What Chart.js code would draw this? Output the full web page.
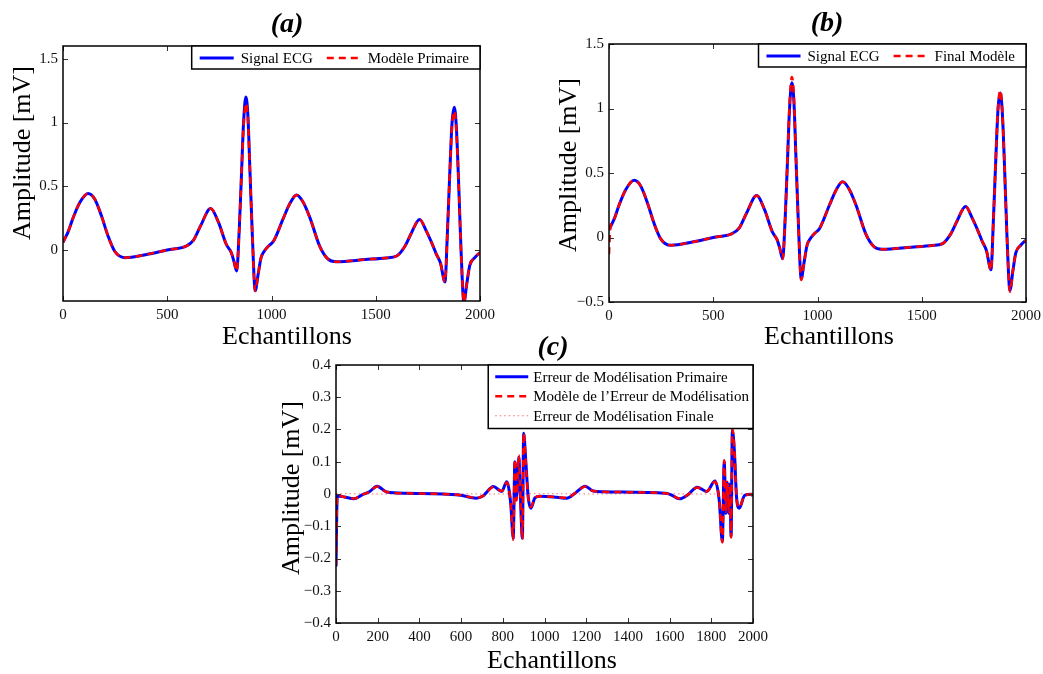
<!DOCTYPE html>
<html>
<head>
<meta charset="utf-8">
<title>ECG</title>
<script src="https://cdn.jsdelivr.net/npm/chart.js@4.4.1/dist/chart.umd.min.js"></script>
<style>
    body { margin: 0; background: #fff; width: 1043px; height: 674px; position: relative; overflow: hidden; }
    canvas { position: absolute; }
</style>
</head>
<body>
<canvas id="chartA" width="500" height="352" style="left:0;top:0"></canvas>
<canvas id="chartB" width="503" height="352" style="left:540px;top:0"></canvas>
<canvas id="chartC" width="520" height="344" style="left:260px;top:330px"></canvas>

<script>
// echantillons du signal ECG (deux battements)
const xEcg = [
    0, 6, 24, 48, 80, 120, 152, 184, 216, 248,
    296, 400, 500, 590, 625, 660, 708, 745, 783, 807,
    820, 833, 845, 855, 866, 877, 887, 896, 908, 922,
    935, 950, 965, 985, 1010, 1057, 1090, 1120, 1150, 1185,
    1231, 1270, 1310, 1450, 1550, 1600, 1640, 1670, 1710, 1745,
    1770, 1790, 1810, 1832, 1844, 1855, 1866, 1877, 1887, 1897,
    1909, 1923, 1937, 1951, 1975, 2000
];
const ecgSignal = [
    0.06, 0.08, 0.14, 0.25, 0.37, 0.443, 0.40, 0.27, 0.11, -0.01,
    -0.06, -0.035, 0.0, 0.03, 0.075, 0.19, 0.325, 0.22, 0.045, -0.02,
    -0.09, -0.165, 0.15, 0.55, 1.0, 1.2, 1.05, 0.65, 0.12, -0.32,
    -0.2, -0.06, -0.01, 0.03, 0.07, 0.25, 0.37, 0.432, 0.38, 0.25,
    0.03, -0.07, -0.092, -0.075, -0.062, -0.047, 0.03, 0.13, 0.24, 0.14,
    0.05, -0.03, -0.1, -0.25, 0.15, 0.6, 1.0, 1.12, 0.95, 0.55,
    0.0, -0.41, -0.26, -0.12, -0.06, -0.02
];
const modelePrimaire = [
    0.06, 0.08, 0.14, 0.25, 0.37, 0.443, 0.40, 0.27, 0.11, -0.01,
    -0.06, -0.035, 0.0, 0.03, 0.075, 0.19, 0.325, 0.22, 0.045, -0.02,
    -0.09, -0.165, 0.15, 0.55, 0.97, 1.15, 1.02, 0.65, 0.12, -0.32,
    -0.2, -0.06, -0.01, 0.03, 0.07, 0.25, 0.37, 0.432, 0.38, 0.25,
    0.03, -0.07, -0.092, -0.075, -0.062, -0.047, 0.03, 0.13, 0.24, 0.14,
    0.05, -0.03, -0.1, -0.25, 0.15, 0.6, 0.98, 1.09, 0.93, 0.55,
    0.0, -0.41, -0.26, -0.12, -0.06, -0.02
];
const modeleFinal = [
    -0.13, 0.07, 0.14, 0.25, 0.37, 0.443, 0.40, 0.27, 0.11, -0.01,
    -0.06, -0.035, 0.0, 0.03, 0.075, 0.19, 0.325, 0.22, 0.045, -0.02,
    -0.09, -0.165, 0.15, 0.56, 1.03, 1.245, 1.08, 0.66, 0.12, -0.33,
    -0.2, -0.06, -0.01, 0.03, 0.07, 0.25, 0.37, 0.432, 0.38, 0.25,
    0.03, -0.07, -0.092, -0.075, -0.062, -0.047, 0.03, 0.13, 0.24, 0.14,
    0.05, -0.03, -0.1, -0.255, 0.15, 0.61, 1.01, 1.14, 0.96, 0.55,
    0.0, -0.42, -0.26, -0.12, -0.06, -0.02
];

// erreurs de modelisation
const xErr = [
    0, 6, 40, 85, 127, 160, 197, 243, 342, 590,
    672, 705, 755, 795, 819, 838, 850, 858, 866, 877,
    883, 894, 900, 910, 922, 935, 954, 978, 1058, 1106,
    1150, 1195, 1234, 1333, 1580, 1605, 1647, 1688, 1732, 1778,
    1818, 1838, 1853, 1862, 1870, 1877, 1884, 1889, 1895, 1901,
    1911, 1921, 1934, 1960, 1993, 2000
];
const erreurPrimaire = [
    -0.225, -0.006, -0.009, -0.015, -0.002, 0.007, 0.024, 0.006, 0.002, -0.003,
    -0.013, -0.006, 0.023, 0.008, 0.038, -0.03, -0.137, 0.1, -0.01, 0.115,
    0.02, -0.137, 0.188, 0.105, -0.01, -0.044, -0.012, -0.007, -0.01, -0.013,
    0.004, 0.024, 0.009, 0.006, 0.002, -0.002, -0.015, -0.002, 0.021, 0.008,
    0.04, -0.02, -0.147, 0.1, -0.06, 0.035, -0.06, 0.03, -0.132, 0.198,
    0.13, -0.01, -0.044, -0.004, -0.001, -0.006
];
const modeleErreur = [
    -0.22, -0.004, -0.009, -0.014, -0.002, 0.007, 0.023, 0.006, 0.002, -0.003,
    -0.012, -0.006, 0.022, 0.009, 0.036, -0.028, -0.142, 0.108, -0.02, 0.12,
    0.03, -0.14, 0.19, 0.1, -0.012, -0.04, -0.012, -0.007, -0.01, -0.012,
    0.004, 0.023, 0.009, 0.006, 0.002, -0.002, -0.014, -0.002, 0.02, 0.008,
    0.038, -0.018, -0.15, 0.105, -0.055, 0.038, -0.055, 0.028, -0.135, 0.2,
    0.135, -0.012, -0.042, -0.004, -0.001, -0.006
];
const xFinale = [0, 250, 500, 750, 1000, 1250, 1500, 1750, 2000];
const erreurFinale = [0.001, 0.0, 0.001, 0.0, 0.001, 0.0, 0.001, 0.0, 0.001];

// graduations
const xTicksAB = [0, 500, 1000, 1500, 2000];
const xLabelsAB = ['0', '500', '1000', '1500', '2000'];
const xTicksC = [0, 200, 400, 600, 800, 1000, 1200, 1400, 1600, 1800, 2000];
const xLabelsC = ['0', '200', '400', '600', '800', '1000', '1200', '1400', '1600', '1800', '2000'];
const yTicksA = [0, 0.5, 1, 1.5];
const yLabelsA = ['0', '0.5', '1', '1.5'];
const yTicksB = [-0.5, 0, 0.5, 1, 1.5];
const yLabelsB = ['\u22120.5', '0', '0.5', '1', '1.5'];
const yTicksC = [-0.4, -0.3, -0.2, -0.1, 0, 0.1, 0.2, 0.3, 0.4];
const yLabelsC = ['\u22120.4', '\u22120.3', '\u22120.2', '\u22120.1', '0', '0.1', '0.2', '0.3', '0.4'];

const SERIF = '"Liberation Serif", "Times New Roman", serif';

function points(xs, ys) {
    return xs.map((x, i) => ({ x: x, y: ys[i] }));
}

// cadre noir + petites graduations vers l'interieur sur les 4 cotes
const axesBox = {
    id: 'axesBox',
    afterDatasetsDraw(chart) {
        const { ctx, chartArea: a, scales } = chart;
        const len = 5;
        ctx.save();
        ctx.strokeStyle = '#333';
        ctx.lineWidth = 1;
        ctx.beginPath();
        scales.x.ticks.forEach(t => {
            const px = Math.round(scales.x.getPixelForValue(t.value)) + 0.5;
            ctx.moveTo(px, a.bottom); ctx.lineTo(px, a.bottom - len);
            ctx.moveTo(px, a.top); ctx.lineTo(px, a.top + len);
        });
        scales.y.ticks.forEach(t => {
            const py = Math.round(scales.y.getPixelForValue(t.value)) + 0.5;
            ctx.moveTo(a.left, py); ctx.lineTo(a.left + len, py);
            ctx.moveTo(a.right, py); ctx.lineTo(a.right - len, py);
        });
        ctx.stroke();
        ctx.strokeStyle = '#000';
        ctx.lineWidth = 1.5;
        ctx.strokeRect(a.left, a.top, a.right - a.left, a.bottom - a.top);
        ctx.restore();
    }
};

// legende encadree dans le coin haut droit
const boxLegend = {
    id: 'boxLegend',
    afterDraw(chart, args, opts) {
        const { ctx, chartArea: a } = chart;
        const sets = chart.data.datasets;
        ctx.save();
        ctx.font = '15px ' + SERIF;
        ctx.textBaseline = 'middle';
        const widths = sets.map(d => ctx.measureText(d.label).width);
        let boxW, boxH;
        if (opts.vertical) {
            boxW = opts.padL + opts.lineLen + opts.gap + Math.max(...widths) + opts.padR;
            boxH = opts.rowH * sets.length + 5;
        } else {
            boxW = opts.padL + opts.padR;
            widths.forEach((w, i) => { boxW += opts.lineLen + opts.gap + w + (i ? opts.sep : 0); });
            boxH = opts.rowH;
        }
        const left = a.right - boxW, top = a.top;
        ctx.fillStyle = '#fff';
        ctx.fillRect(left, top, boxW, boxH);
        ctx.strokeStyle = '#000';
        ctx.lineWidth = 1.5;
        ctx.strokeRect(left, top, boxW, boxH);

        let x = left + opts.padL;
        sets.forEach((d, i) => {
            let y = top + opts.rowH / 2 + 0.5;
            if (opts.vertical) {
                x = left + opts.padL;
                y = top + 2 + opts.rowH * (i + 0.5);
            } else if (i) {
                x += opts.sep;
            }
            ctx.strokeStyle = d.borderColor;
            ctx.lineWidth = d.borderWidth;
            ctx.setLineDash(d.borderDash || []);
            ctx.beginPath();
            ctx.moveTo(x, y); ctx.lineTo(x + opts.lineLen, y);
            ctx.stroke();
            ctx.setLineDash([]);
            ctx.fillStyle = '#000';
            ctx.fillText(d.label, x + opts.lineLen + opts.gap, y + 1);
            x += opts.lineLen + opts.gap + widths[i];
        });
        ctx.restore();
    }
};

// titre du panneau et noms des axes
const panelText = {
    id: 'panelText',
    afterDraw(chart, args, o) {
        const ctx = chart.ctx;
        ctx.save();
        ctx.fillStyle = '#000';
        ctx.textAlign = 'center';
        ctx.textBaseline = 'alphabetic';
        ctx.font = 'italic bold 28px ' + SERIF;
        ctx.fillText(o.title, o.titleAt[0], o.titleAt[1]);
        ctx.font = '26px ' + SERIF;
        ctx.fillText(o.xLabel, o.xLabelAt[0], o.xLabelAt[1]);
        ctx.translate(o.yLabelAt[0], o.yLabelAt[1]);
        ctx.rotate(-Math.PI / 2);
        ctx.fillText(o.yLabel, 0, 0);
        ctx.restore();
    }
};

function ligne(label, xs, ys, style) {
    const base = {
        label: label,
        data: points(xs, ys),
        pointRadius: 0,
        cubicInterpolationMode: 'monotone',
        fill: false
    };
    if (style === 'plein') return Object.assign(base, { borderColor: '#0000ff', borderWidth: 3, order: 2 });
    if (style === 'tirets') return Object.assign(base, { borderColor: '#ff0000', borderWidth: 2.5, borderDash: [7, 5], order: 1 });
    return Object.assign(base, { borderColor: 'rgba(255,60,60,0.75)', borderWidth: 1, borderDash: [1.5, 3], order: 3 });
}

function creerGraphe(id, datasets, cfg) {
    return new Chart(document.getElementById(id), {
        type: 'line',
        data: { datasets: datasets },
        options: {
            responsive: false,
            animation: false,
            events: [],
            layout: { padding: { top: cfg.top, right: cfg.right, left: 0, bottom: 0 } },
            plugins: {
                legend: { display: false },
                tooltip: { enabled: false },
                boxLegend: cfg.legend,
                panelText: cfg.text
            },
            scales: {
                x: {
                    type: 'linear',
                    min: 0,
                    max: 2000,
                    grid: { display: false, drawTicks: false },
                    border: { display: false },
                    afterBuildTicks: s => { s.ticks = cfg.xTicks.map(v => ({ value: v })); },
                    afterFit: s => { s.height = cfg.xHeight; s.paddingLeft = 0; s.paddingRight = 0; },
                    ticks: {
                        autoSkip: false,
                        maxRotation: 0,
                        padding: 5,
                        color: '#111',
                        font: { family: SERIF, size: 15 },
                        callback: (v, i) => cfg.xLabels[i]
                    }
                },
                y: {
                    min: cfg.yMin,
                    max: cfg.yMax,
                    grid: { display: false, drawTicks: false },
                    border: { display: false },
                    afterBuildTicks: s => { s.ticks = cfg.yTicks.map(v => ({ value: v })); },
                    afterFit: s => { s.width = cfg.yWidth; s.paddingTop = 0; s.paddingBottom = 0; },
                    ticks: {
                        autoSkip: false,
                        padding: 5,
                        color: '#111',
                        font: { family: SERIF, size: 15 },
                        callback: (v, i) => cfg.yLabels[i]
                    }
                }
            }
        },
        plugins: [axesBox, boxLegend, panelText]
    });
}

const legendeLigne = { vertical: false, padL: 8, padR: 11, lineLen: 34, gap: 7, sep: 14, rowH: 23 };

creerGraphe('chartA', [
    ligne('Signal ECG', xEcg, ecgSignal, 'plein'),
    ligne('Modèle Primaire', xEcg, modelePrimaire, 'tirets')
], {
    top: 46, right: 20, yWidth: 63, xHeight: 51,
    yMin: -0.4, yMax: 1.6,
    xTicks: xTicksAB, xLabels: xLabelsAB, yTicks: yTicksA, yLabels: yLabelsA,
    legend: legendeLigne,
    text: {
        title: '(a)', titleAt: [287, 32],
        xLabel: 'Echantillons', xLabelAt: [287, 344],
        yLabel: 'Amplitude [mV]', yLabelAt: [30, 153]
    }
});

creerGraphe('chartB', [
    ligne('Signal ECG', xEcg, ecgSignal, 'plein'),
    ligne('Final Modèle', xEcg, modeleFinal, 'tirets')
], {
    top: 44, right: 17, yWidth: 69, xHeight: 50,
    yMin: -0.5, yMax: 1.5,
    xTicks: xTicksAB, xLabels: xLabelsAB, yTicks: yTicksB, yLabels: yLabelsB,
    legend: legendeLigne,
    text: {
        title: '(b)', titleAt: [287, 31],
        xLabel: 'Echantillons', xLabelAt: [289, 344],
        yLabel: 'Amplitude [mV]', yLabelAt: [36, 165]
    }
});

creerGraphe('chartC', [
    ligne('Erreur de Modélisation Primaire', xErr, erreurPrimaire, 'plein'),
    ligne('Modèle de l\u2019Erreur de Modélisation', xErr, modeleErreur, 'tirets'),
    ligne('Erreur de Modélisation Finale', xFinale, erreurFinale, 'points')
], {
    top: 35, right: 27, yWidth: 76, xHeight: 51,
    yMin: -0.4, yMax: 0.4,
    xTicks: xTicksC, xLabels: xLabelsC, yTicks: yTicksC, yLabels: yLabelsC,
    legend: { vertical: true, padL: 7, padR: 4, lineLen: 33, gap: 5, rowH: 19.5 },
    text: {
        title: '(c)', titleAt: [293, 25],
        xLabel: 'Echantillons', xLabelAt: [292, 338],
        yLabel: 'Amplitude [mV]', yLabelAt: [39, 158]
    }
});
</script>
</body>
</html>
